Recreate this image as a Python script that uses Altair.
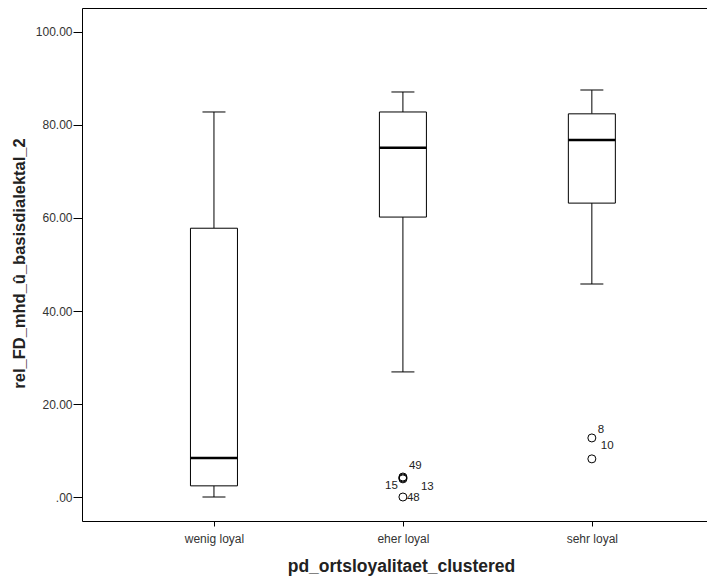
import altair as alt
import pandas as pd

# ---- data ----
categories = ["wenig loyal", "eher loyal", "sehr loyal"]
positions = [1, 2, 3]
lower_whisker = [0.0, 26.9, 45.8]
q1 = [2.4, 60.2, 63.2]
median = [8.4, 75.1, 76.8]
q3 = [57.8, 82.8, 82.4]
upper_whisker = [82.8, 87.1, 87.5]

outlier_pos = [2, 2, 2, 2, 3, 3]
outlier_val = [4.3, 4.1, 3.9, 0.0, 12.7, 8.2]
outlier_id = ["49", "15", "13", "48", "8", "10"]

y_ticks = [0, 20, 40, 60, 80, 100]

boxes = pd.DataFrame({
    "cat": categories, "pos": positions, "lo": lower_whisker,
    "q1": q1, "med": median, "q3": q3, "hi": upper_whisker,
})
outl = pd.DataFrame({"pos": outlier_pos, "val": outlier_val, "id": outlier_id})

FONT = "Liberation Sans"
INK = "#000000"

xscale = alt.Scale(domain=[0.328, 3.583], nice=False, zero=False)
yscale = alt.Scale(domain=[-5.16, 105.16], nice=False, zero=False)

label_expr = ("datum.value == 1 ? 'wenig loyal' : datum.value == 2 ? "
              "'eher loyal' : datum.value == 3 ? 'sehr loyal' : ''")

x_axis = alt.Axis(
    orient="bottom",
    values=positions, labelExpr=label_expr, grid=False, tickSize=5,
    tickColor=INK, domainColor=INK, labelFont=FONT, labelFontSize=12,
    labelColor="#333333", labelPadding=7, title="pd_ortsloyalitaet_clustered",
    titleFont=FONT, titleFontSize=17.5, titleFontWeight="bold", titleColor="#222222",
    titleX=319, titleY=50, titleAlign="center", titleBaseline="alphabetic",
)
y_axis = alt.Axis(
    values=y_ticks,
    labelExpr="datum.value == 0 ? '.00' : format(datum.value, '.2f')",
    grid=False, tickSize=9, tickColor=INK, domainColor=INK, labelFont=FONT,
    labelFontSize=12, labelColor="#333333", labelPadding=1,
    title="rel_FD_mhd_û_basisdialektal_2", titleFont=FONT, titleFontSize=16.5,
    titleFontWeight="bold", titleColor="#222222", titleX=-58, titleY=255,
    titleAlign="center", titleBaseline="alphabetic", titleAngle=-90,
)
top_axis = alt.Axis(orient="top", labels=False, ticks=False, title=None,
                    grid=False, domainColor=INK)

base = alt.Chart(boxes)

whisk_low = base.mark_rule(color=INK, strokeWidth=1).encode(
    x=alt.X("pos:Q", scale=xscale, axis=x_axis),
    y=alt.Y("lo:Q", scale=yscale, axis=y_axis), y2="q1:Q")
whisk_high = base.mark_rule(color=INK, strokeWidth=1).encode(
    x=alt.X("pos:Q", scale=xscale), y=alt.Y("q3:Q", scale=yscale), y2="hi:Q")
box = base.mark_bar(size=47, fill="white", stroke=INK, strokeWidth=1).encode(
    x=alt.X("pos:Q", scale=xscale), y=alt.Y("q1:Q", scale=yscale), y2="q3:Q")
med = base.mark_tick(orient="horizontal", size=47, thickness=2.5, color=INK,
                     opacity=1).encode(
    x=alt.X("pos:Q", scale=xscale), y=alt.Y("med:Q", scale=yscale))
cap_lo = base.mark_tick(orient="horizontal", size=23, thickness=1, color=INK,
                        opacity=1).encode(
    x=alt.X("pos:Q", scale=xscale), y=alt.Y("lo:Q", scale=yscale))
cap_hi = base.mark_tick(orient="horizontal", size=23, thickness=1, color=INK,
                        opacity=1).encode(
    x=alt.X("pos:Q", scale=xscale), y=alt.Y("hi:Q", scale=yscale))

pts = alt.Chart(outl).mark_point(shape="circle", size=64, filled=False,
                                  stroke=INK, strokeWidth=1, opacity=1).encode(
    x=alt.X("pos:Q", scale=xscale), y=alt.Y("val:Q", scale=yscale))

# label placement (style, not data)
label_style = {
    "49": dict(dx=6, dy=-11, align="left"),
    "15": dict(dx=-5, dy=8, align="right"),
    "13": dict(dx=18, dy=8, align="left"),
    "48": dict(dx=4, dy=1, align="left"),
    "8": dict(dx=6, dy=-8, align="left"),
    "10": dict(dx=9, dy=-13, align="left"),
}
label_layers = []
for lid, st in label_style.items():
    label_layers.append(
        alt.Chart(outl).transform_filter(alt.datum.id == lid).mark_text(
            font=FONT, fontSize=11.5, color="#222222", baseline="middle", **st
        ).encode(x=alt.X("pos:Q", scale=xscale), y=alt.Y("val:Q", scale=yscale),
                 text="id:N")
    )

main = alt.layer(whisk_low, whisk_high, box, med, cap_lo, cap_hi, pts,
                 *label_layers)

# top frame line drawn as a second (label-less) x axis on the shared scale
top_frame = base.mark_rule(opacity=0).encode(
    x=alt.X("pos:Q", scale=xscale, axis=top_axis),
    y=alt.Y("q1:Q", scale=yscale))

chart = alt.layer(main, top_frame).resolve_axis(x="independent").properties(
    width=625, height=513,
    autosize=alt.AutoSizeParams(type="none"),
    padding={"left": 74, "top": 0, "right": 0, "bottom": 57},
).configure_view(stroke=None).configure(background="white")

chart.save("out.html", embed_options={"renderer": "svg", "actions": False})
